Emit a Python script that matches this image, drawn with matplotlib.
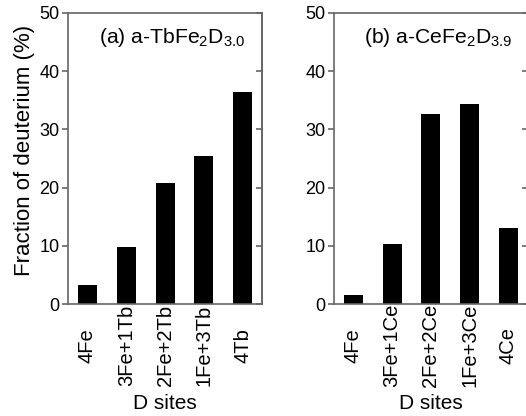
import matplotlib.pyplot as plt

plt.rcParams['font.family'] = ['Liberation Sans', 'DejaVu Sans']
plt.rcParams['mathtext.fontset'] = 'custom'
plt.rcParams['mathtext.rm'] = 'Liberation Sans'
plt.rcParams['mathtext.it'] = 'Liberation Sans'
plt.rcParams['mathtext.default'] = 'regular'

sites_tb = ['4Fe', '3Fe+1Tb', '2Fe+2Tb', '1Fe+3Tb', '4Tb']
frac_tb = [3.3, 9.8, 20.8, 25.5, 36.4]
sites_ce = ['4Fe', '3Fe+1Ce', '2Fe+2Ce', '1Fe+3Ce', '4Ce']
frac_ce = [1.5, 10.4, 32.7, 34.3, 13.1]
titles = [r'(a) a-TbFe$_2$D$_{3.0}$', r'(b) a-CeFe$_2$D$_{3.9}$']

spine_color = '#666666'

fig = plt.figure(figsize=(5.26, 4.16), dpi=100)
ax1 = fig.add_axes([0.1293, 0.269, 0.369, 0.70])
ax2 = fig.add_axes([0.635, 0.269, 0.368, 0.70])

for ax, sites, frac, title in [(ax1, sites_tb, frac_tb, titles[0]),
                               (ax2, sites_ce, frac_ce, titles[1])]:
    x = range(len(sites))
    ax.bar(x, frac, width=0.49, color='black')
    ax.set_xlim(-0.5, 4.5)
    ax.set_ylim(0, 50)
    ax.set_yticks([0, 10, 20, 30, 40, 50])
    ax.set_xticks(list(x))
    ax.set_xticklabels(sites, rotation=90, fontsize=14.5, va='center')
    ax.tick_params(axis='x', length=0, pad=30)
    ax.tick_params(axis='y', direction='out', length=4, width=1.2,
                   color=spine_color, labelsize=13, pad=2)
    # inward ticks on the right side only
    sec = ax.secondary_yaxis('right')
    sec.set_yticks([0, 10, 20, 30, 40, 50])
    sec.tick_params(direction='in', length=4, width=1.2, color=spine_color,
                    labelright=False)
    sec.spines['right'].set_color(spine_color)
    sec.spines['right'].set_linewidth(1.2)
    for s in ax.spines.values():
        s.set_color(spine_color)
        s.set_linewidth(1.2)
    ax.set_xlabel('D sites', fontsize=15, va='top')
    ax.xaxis.set_label_coords(0.5, -0.308)
    ax.text(0.537, 0.914, title, transform=ax.transAxes, ha='center',
            va='center', fontsize=15.2)

ax1.set_ylabel('Fraction of deuterium (%)', fontsize=16)
ax1.yaxis.set_label_coords(-0.17, 0.526)

plt.savefig('out.png', dpi=100)
